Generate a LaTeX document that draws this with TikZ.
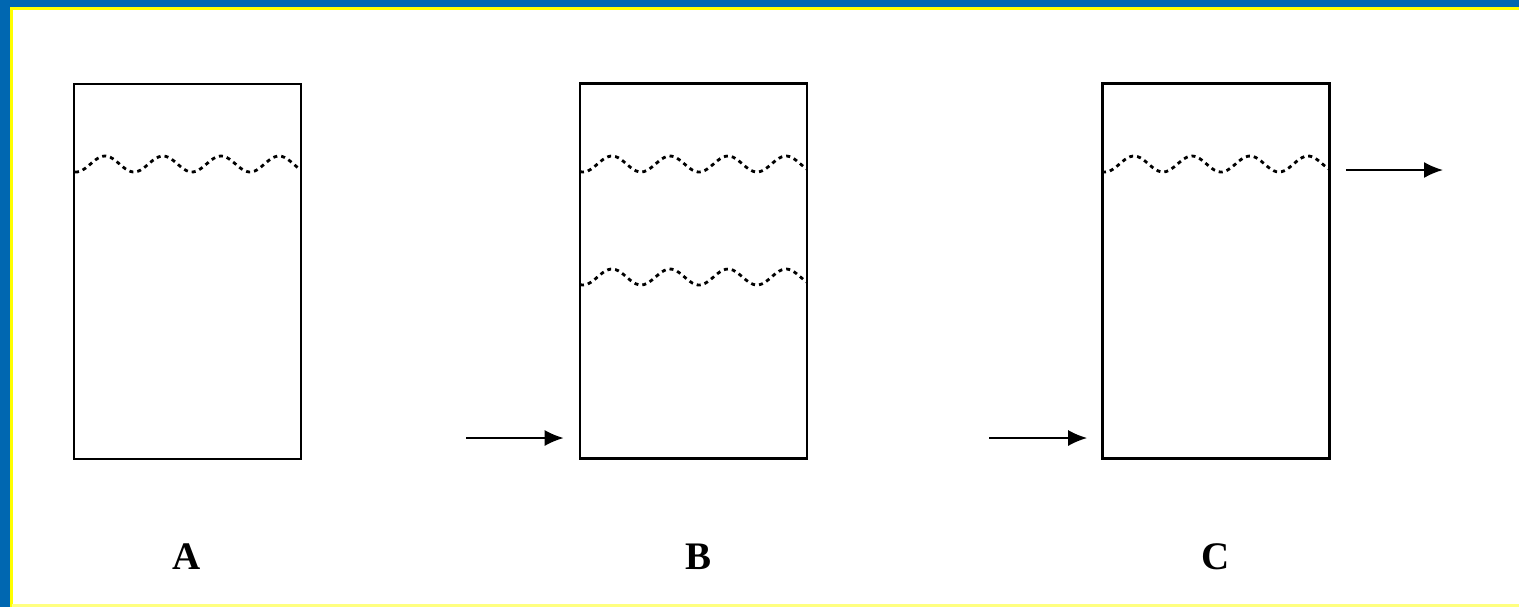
\documentclass[tikz,border=0pt]{standalone}
\usepackage{fontspec}
\setmainfont{Liberation Serif}
\usetikzlibrary{arrows.meta}
\definecolor{frameblue}{RGB}{0,103,177}
\definecolor{frameyellow}{RGB}{255,255,0}
\tikzset{
  tank/.style={draw,line width=1.3pt,minimum width=113.5pt,minimum height=187.5pt,inner sep=0pt},
  wave/.style={line width=1.4pt,dash pattern=on 2pt off 2pt},
  flow/.style={line width=1pt,-{Latex[length=9.5pt,width=8pt]}},
  tag/.style={font=\bfseries\fontsize{19.5}{24}\selectfont}
}
\begin{document}
\begin{tikzpicture}[x=0.5pt,y=-0.5pt]
\useasboundingbox (0,0) rectangle (1519,607);
\fill[frameblue] (0,0) rectangle (1519,7);
\fill[frameblue] (0,0) rectangle (10,607);
\draw[frameyellow,line width=1.5pt] (1519,8.5) -- (11.5,8.5) -- (11.5,607);
\draw[frameyellow!50,line width=1.2pt] (11.5,605.5) -- (1519,605.5);
\node[tank] (tankA) at (187.5,271.5) {};
\node[tank] (tankB) at (693.5,271) {};
\node[tank] (tankC) at (1216,271) {};
% 360/58 = 6.207 degrees per pixel
\draw[wave] plot[domain=0:225,samples=90,smooth] ({75+\x},{164-8*cos(6.207*(\x-30))});
\draw[wave] plot[domain=0:227,samples=90,smooth] ({580+\x},{164-8*cos(6.207*(\x-32))});
\draw[wave] plot[domain=0:227,samples=90,smooth] ({580+\x},{277-8*cos(6.207*(\x-32))});
\draw[wave] plot[domain=0:228,samples=90,smooth] ({1102+\x},{164-8*cos(6.207*(\x-32))});
\coordinate (inB) at (466,438);
\coordinate (inC) at (989,438);
\coordinate (outC) at (1443,170);
\draw[flow,shorten >=7.5pt] (inB) -- (inB -| tankB.west);
\draw[flow,shorten >=7pt] (inC) -- (inC -| tankC.west);
\draw[flow,shorten <=7.5pt] (outC -| tankC.east) -- (outC);
\node[tag] (labA) at (187,557) {A};
\node[tag] (labB) at (698,557) {B};
\node[tag] (labC) at (1216,557) {C};
\end{tikzpicture}
\end{document}
